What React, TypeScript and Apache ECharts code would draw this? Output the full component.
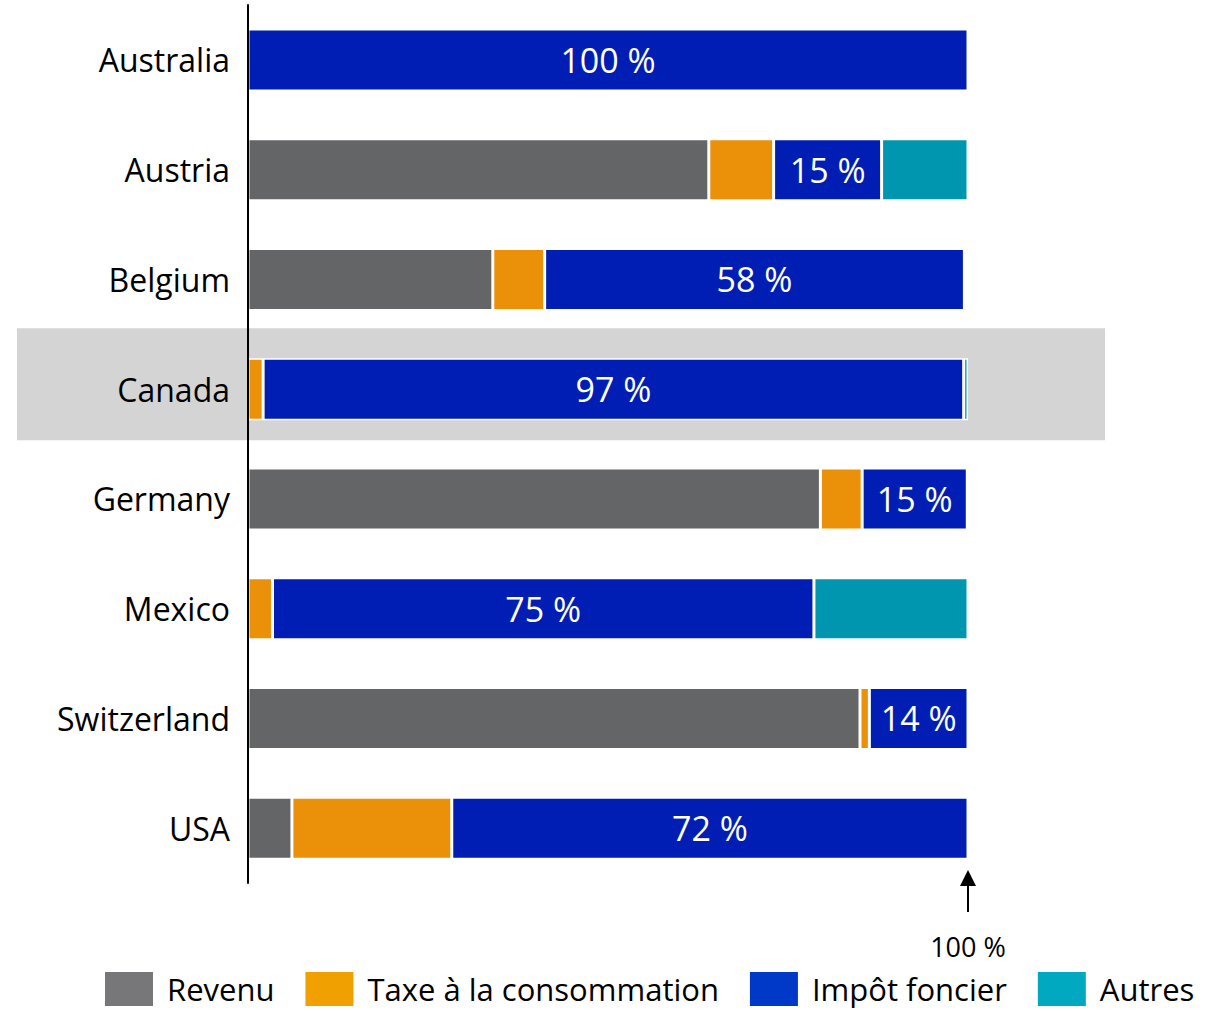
import React, { useEffect, useRef } from "react";
import * as echarts from "echarts";

const categories = ["Australia", "Austria", "Belgium", "Canada", "Germany", "Mexico", "Switzerland", "USA"];
const revenu = [0, 64, 34, 0, 79.5, 0, 85, 6.1];
const taxe = [0, 9, 7.2, 2.1, 5.8, 3.4, 1.3, 22.2];
const impot = [100, 15, 58.3, 97.3, 14.6, 75.2, 13.7, 71.7];
const autres = [0, 12, 0, 0.6, 0, 21.4, 0, 0];
const seriesNames = ["Revenu", "Taxe à la consommation", "Impôt foncier", "Autres"];
const barColors = ["#646567", "#EB9109", "#001EB4", "#0096AF"];
const legendColors = ["#77777A", "#F0A000", "#0038C8", "#00A8C0"];
const highlighted = "Canada";
const refValue = 100;
const refLabel = "100 %";

const FONT = "Open Sans";

export default function App() {
  const ref = useRef<HTMLDivElement>(null);
  useEffect(() => {
    document.body.style.margin = "0";
    const chart = echarts.init(ref.current!, null, { renderer: "svg" });
    const values = [revenu, taxe, impot, autres];
    const series = values.map((arr, i) => ({
      name: seriesNames[i],
      type: "bar",
      stack: "total",
      barWidth: 62,
      data: arr.map((v) => (v > 0 ? v : "-")),
      itemStyle: { color: barColors[i], borderColor: "#ffffff", borderWidth: 1.5 },
      label:
        i === 2
          ? {
              show: true,
              position: "inside",
              color: "#ffffff",
              fontFamily: FONT,
              fontSize: 34,
              padding: [4, 0, 0, 0],
              formatter: (p: any) => Math.round(p.value) + " %",
            }
          : { show: false },
      emphasis: { disabled: true },
    }));
    chart.setOption({
      animation: false,
      grid: { left: 248, top: 5, width: 720, height: 878 },
      xAxis: { type: "value", min: 0, max: 100, show: false },
      yAxis: {
        type: "category",
        data: categories,
        inverse: true,
        axisLine: { show: true, lineStyle: { color: "#000000", width: 2 } },
        axisTick: { show: false },
        axisLabel: { color: "#000000", fontFamily: FONT, fontSize: 32, margin: 18, padding: [8, 0, 0, 0] },
        z: 5,
      },
      legend: {
        top: 969,
        left: 103,
        padding: 0,
        itemWidth: 50,
        itemHeight: 36,
        itemGap: 29,
        icon: "rect",
        textStyle: { fontFamily: FONT, fontSize: 31, lineHeight: 36, color: "#000000", padding: [4, 0, 0, 8] },
        data: seriesNames.map((n, i) => ({ name: n, itemStyle: { color: legendColors[i] } })),
      },
      series,
    });
    const yc = chart.convertToPixel({ yAxisIndex: 0 }, highlighted) as number;
    const x100 = chart.convertToPixel({ xAxisIndex: 0 }, refValue) as number;
    const yBottom = 5 + 878;
    chart.setOption({
      graphic: [
        { type: "rect", z: -10, shape: { x: 17, y: yc - 61, width: 1088, height: 112 }, style: { fill: "#D4D4D4" } },
        { type: "line", shape: { x1: x100, y1: yBottom + 29, x2: x100, y2: yBottom + 2 }, style: { stroke: "#000", lineWidth: 2 } },
        {
          type: "polygon",
          shape: { points: [[x100, yBottom - 13], [x100 - 8, yBottom + 3], [x100 + 8, yBottom + 3]] },
          style: { fill: "#000" },
        },
        {
          type: "text",
          x: x100,
          y: yBottom + 63,
          style: { text: refLabel, fill: "#000", fontFamily: FONT, fontSize: 27, align: "center", verticalAlign: "middle" },
        },
      ],
    });
    return () => chart.dispose();
  }, []);
  return <div ref={ref} style={{ width: 1230, height: 1011 }} />;
}
